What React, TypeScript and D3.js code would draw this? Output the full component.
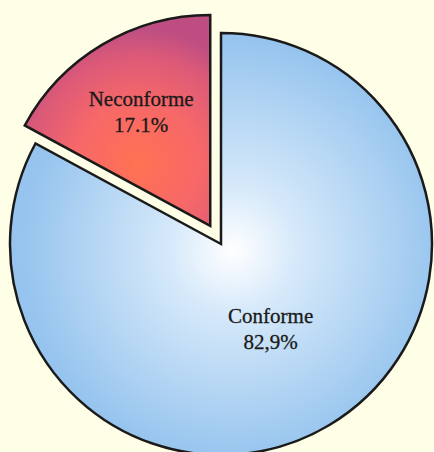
import React from "react";
import * as d3 from "d3";

const categories = ["Conforme", "Neconforme"];
const values = [82.9, 17.1];
const valueLabels = ["82,9%", "17.1%"];

const W = 434;
const H = 452;
const cx = 221;
const cy = 244;
const R = 211;
const explode = [0, 21];
const labelFrac = [0.46, 0.64];

export default function App() {
  const pie = d3.pie<number>().sort(null).value((d) => d)(values);
  const arc = d3.arc<d3.PieArcDatum<number>>().innerRadius(0).outerRadius(R);
  const fills = ["url(#gBlue)", "url(#gRed)"];
  return (
    <svg
      width={W}
      height={H}
      style={{ position: "absolute", left: 0, top: 0, background: "#FFFEE6" }}
    >
      <defs>
        <radialGradient id="gBlue" gradientUnits="userSpaceOnUse" cx={12} cy={6} r={R}>
          <stop offset="0" stopColor="#FFFFFF" />
          <stop offset="0.3" stopColor="#D6E9FA" />
          <stop offset="1" stopColor="#96C4EE" />
        </radialGradient>
        <radialGradient id="gRed" gradientUnits="userSpaceOnUse" cx={-72} cy={-62} r={135}>
          <stop offset="0" stopColor="#FF7252" />
          <stop offset="0.45" stopColor="#F76868" />
          <stop offset="0.8" stopColor="#DC5A78" />
          <stop offset="1" stopColor="#BE4E82" />
        </radialGradient>
      </defs>
      {pie.map((p, i) => {
        const mid = (p.startAngle + p.endAngle) / 2;
        const dx = Math.sin(mid) * explode[i];
        const dy = -Math.cos(mid) * explode[i];
        const lr = R * labelFrac[i];
        const lx = Math.sin(mid) * lr;
        const ly = -Math.cos(mid) * lr;
        return (
          <g key={categories[i]} transform={`translate(${cx + dx},${cy + dy})`}>
            <path d={arc(p) || ""} fill={fills[i]} stroke="#1a1a1a" strokeWidth={2.5} strokeLinejoin="miter" />
            <text
              x={lx}
              y={ly}
              textAnchor="middle"
              fontFamily="Liberation Serif, serif"
              fontSize={21}
              fill="#1a1a1a"
              stroke="#1a1a1a"
              strokeWidth={0.3}
            >
              <tspan x={lx} dy={-4}>{categories[i]}</tspan>
              <tspan x={lx} dy={26}>{valueLabels[i]}</tspan>
            </text>
          </g>
        );
      })}
    </svg>
  );
}
